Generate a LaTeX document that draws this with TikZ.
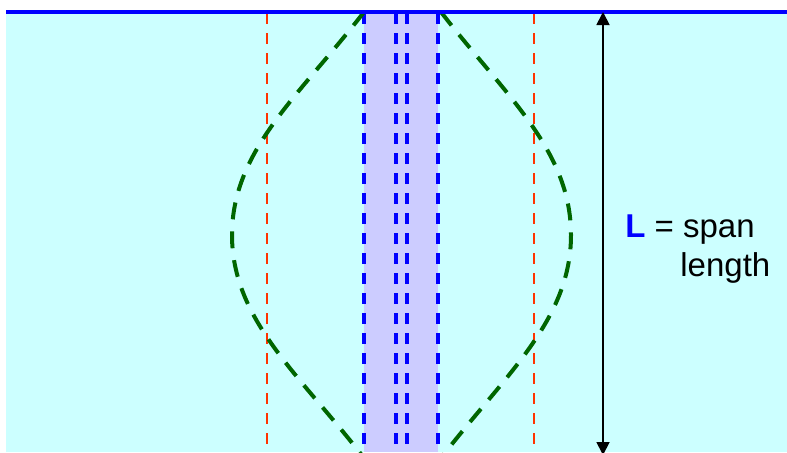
\documentclass[tikz,border=0pt]{standalone}
\usepackage{fontspec}
\setmainfont{Liberation Sans}
\usetikzlibrary{arrows.meta}
\definecolor{cbg}{HTML}{CCFFFF}
\definecolor{cband}{HTML}{CCCCFF}
\definecolor{cblue}{HTML}{0000FF}
\definecolor{cred}{HTML}{FF3300}
\definecolor{cgreen}{HTML}{006600}
\tikzset{
  gridline/.style={line width=1.6pt,dash pattern=on 5.5pt off 4.5pt},
  envelope/.style={cgreen,line width=2pt,dash pattern=on 8.5pt off 6pt},
  lbl/.style={font=\fontsize{16.5}{20}\selectfont,inner sep=0pt,anchor=base west}
}
\begin{document}
\begin{tikzpicture}[x=0.5pt,y=-0.5pt]
  \useasboundingbox (0,0) rectangle (787,452);
  \clip (0,0) rectangle (787,452);
  % background and band
  \fill[cbg] (6,12) rectangle (787,452);
  \fill[cband] (364,12) rectangle (438,452);
  % vertical dashed lines
  \foreach \x in {364,396,407,438}
    {\draw[gridline,cblue] (\x,13) -- (\x,452);}
  \foreach \x in {267,534}
    {\draw[gridline,cred,line width=1.2pt] (\x,13) -- (\x,452);}
  % envelope
  \draw[envelope] (364,12) .. controls (300,95) and (232,150) .. (232,235)
    .. controls (232,320) and (300,375) .. (364,458);
  \draw[envelope] (441,12) .. controls (505,95) and (571,150) .. (571,235)
    .. controls (571,320) and (505,375) .. (441,458);
  % top line
  \draw[cblue,line width=2pt] (6,12) -- (787,12);
  % span arrow
  \coordinate (top) at (603,12);
  \coordinate (bot) at (603,455);
  \draw[{Triangle[length=6.5pt,width=6.5pt]}-{Triangle[length=6.5pt,width=6.5pt]},line width=0.9pt] (top) -- (bot);
  % label
  \node[lbl] (lspan) at (625,237) {\textcolor{cblue}{\textbf{L}} = span};
  \node[lbl] (llen) at (680,276) {length};
\end{tikzpicture}
\end{document}
